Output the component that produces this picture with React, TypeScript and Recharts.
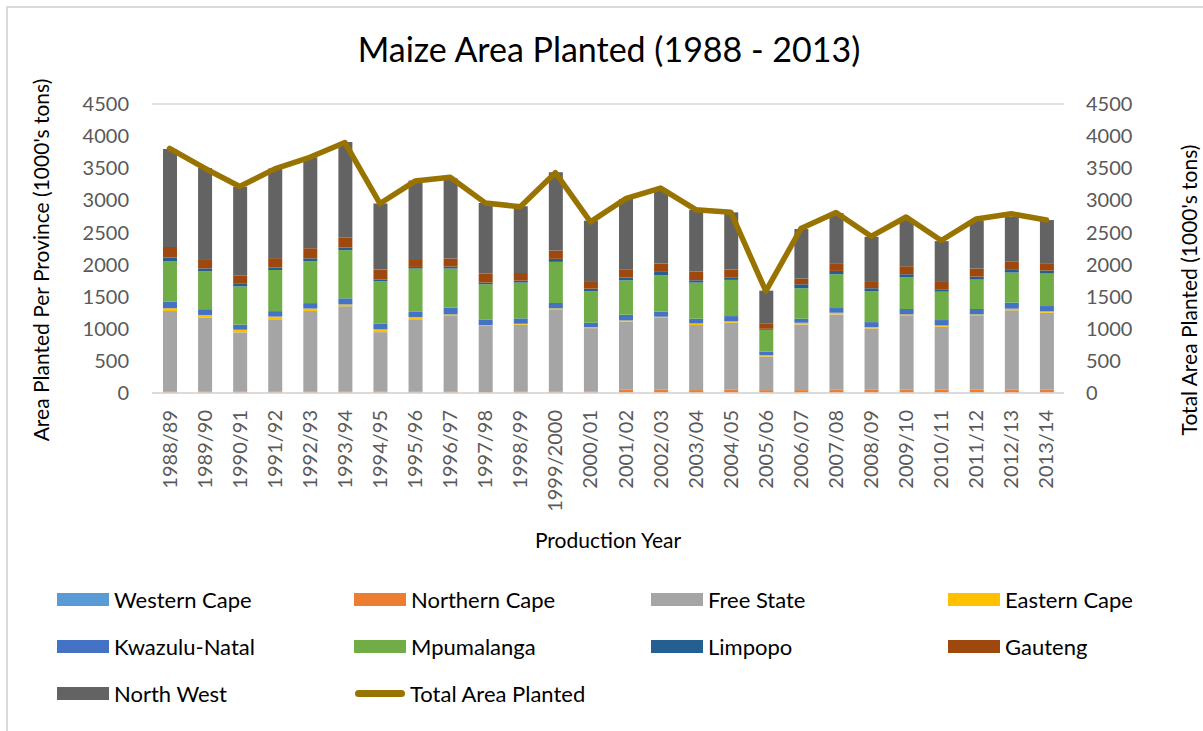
import { ComposedChart, Bar, Line, XAxis, YAxis, CartesianGrid } from 'recharts';

const FONT = 'Lato, "Open Sans", sans-serif';
const TICK_GREY = '#595959';
const GRID = '#d9d9d9';

const YEARS = [
  '1988/89', '1989/90', '1990/91', '1991/92', '1992/93', '1993/94', '1994/95', '1995/96', '1996/97',
  '1997/98', '1998/99', '1999/2000', '2000/01', '2001/02', '2002/03', '2003/04', '2004/05', '2005/06',
  '2006/07', '2007/08', '2008/09', '2009/10', '2010/11', '2011/12', '2012/13', '2013/14',
];

const WESTERN_CAPE = [5, 5, 5, 5, 5, 5, 5, 5, 5, 5, 5, 5, 5, 5, 5, 5, 5, 5, 5, 5, 5, 5, 5, 5, 5, 5];
const NORTHERN_CAPE = [20, 20, 20, 20, 20, 20, 20, 20, 20, 12, 15, 20, 20, 45, 50, 40, 45, 40, 40, 50, 45, 45, 45, 45, 45, 45];
const FREE_STATE = [1250, 1150, 920, 1125, 1250, 1324, 923, 1111, 1173, 1025, 1043, 1267, 985, 1065, 1112, 1012, 1044, 523, 1023, 1169, 955, 1159, 981, 1159, 1237, 1200];
const EASTERN_CAPE = [45, 40, 40, 40, 40, 30, 42, 46, 26, 15, 15, 26, 16, 15, 21, 26, 21, 21, 26, 26, 21, 15, 21, 15, 26, 21];
const KWAZULU_NATAL = [100, 90, 80, 85, 85, 95, 88, 89, 104, 89, 84, 83, 68, 89, 78, 73, 83, 57, 62, 73, 78, 84, 84, 84, 94, 83];
const MPUMALANGA = [630, 590, 595, 640, 650, 750, 662, 667, 610, 547, 557, 641, 490, 536, 568, 563, 563, 338, 475, 526, 480, 494, 442, 458, 469, 506];
const LIMPOPO = [60, 45, 40, 40, 47, 42, 26, 25, 31, 26, 31, 47, 41, 42, 52, 36, 41, 16, 62, 52, 47, 47, 37, 47, 52, 47];
const GAUTENG = [165, 145, 125, 145, 157, 156, 156, 109, 125, 136, 120, 130, 104, 130, 130, 136, 120, 78, 89, 120, 98, 125, 114, 125, 115, 114];
const NORTH_WEST = [1525, 1420, 1385, 1395, 1417, 1485, 1027, 1236, 1251, 1104, 1037, 1219, 954, 1095, 1162, 959, 891, 516, 771, 782, 704, 725, 636, 745, 703, 672];
const TOTAL = [3810, 3500, 3215, 3490, 3670, 3900, 2950, 3300, 3360, 2960, 2900, 3430, 2665, 3025, 3190, 2855, 2815, 1585, 2560, 2810, 2440, 2740, 2375, 2710, 2790, 2695];

const Y_TICKS = [0, 500, 1000, 1500, 2000, 2500, 3000, 3500, 4000, 4500];

const SERIES = [
  { key: 'wc', name: 'Western Cape', color: '#5B9BD5', values: WESTERN_CAPE },
  { key: 'nc', name: 'Northern Cape', color: '#ED7D31', values: NORTHERN_CAPE },
  { key: 'fs', name: 'Free State', color: '#A5A5A5', values: FREE_STATE },
  { key: 'ec', name: 'Eastern Cape', color: '#FFC000', values: EASTERN_CAPE },
  { key: 'kzn', name: 'Kwazulu-Natal', color: '#4472C4', values: KWAZULU_NATAL },
  { key: 'mp', name: 'Mpumalanga', color: '#70AD47', values: MPUMALANGA },
  { key: 'lp', name: 'Limpopo', color: '#255E91', values: LIMPOPO },
  { key: 'gt', name: 'Gauteng', color: '#9E480E', values: GAUTENG },
  { key: 'nw', name: 'North West', color: '#636363', values: NORTH_WEST },
];
const LINE_COLOR = '#997300';

const data = YEARS.map((jaar, i) => {
  const row: Record<string, string | number> = { jaar, total: TOTAL[i] };
  SERIES.forEach(s => { row[s.key] = s.values[i]; });
  return row;
});

function YearTick({ x, y, payload }: any) {
  return (
    <text
      x={0}
      y={0}
      transform={`translate(${x + 7}, ${y + 9}) rotate(-90)`}
      textAnchor="end"
      fill={TICK_GREY}
      fontSize={20}
      fontFamily={FONT}
    >
      {payload.value}
    </text>
  );
}

const legendItems = [
  ...SERIES.map(s => ({ name: s.name, color: s.color, line: false })),
  { name: 'Total Area Planted', color: LINE_COLOR, line: true },
];

export default function App() {
  return (
    <div style={{ position: 'absolute', left: 0, top: 0, width: 1203, height: 731, background: '#fff', overflow: 'hidden', fontFamily: FONT }}>
      <div style={{ position: 'absolute', left: 6, top: 6, width: 1300, height: 800, borderLeft: `2px solid ${GRID}`, borderTop: `2px solid ${GRID}` }} />

      <div style={{ position: 'absolute', left: 0, width: 1218, top: 28, textAlign: 'center', fontSize: 34, color: '#000' }}>
        Maize Area Planted (1988 - 2013)
      </div>

      <div style={{ position: 'absolute', left: 40, top: 260, width: 0, height: 0 }}>
        <div style={{ position: 'absolute', transform: 'translate(-50%, -50%) rotate(-90deg)', whiteSpace: 'nowrap', fontSize: 21, color: '#000' }}>
          Area Planted Per Province (1000's tons)
        </div>
      </div>
      <div style={{ position: 'absolute', left: 1188, top: 290, width: 0, height: 0 }}>
        <div style={{ position: 'absolute', transform: 'translate(-50%, -50%) rotate(-90deg)', whiteSpace: 'nowrap', fontSize: 21, color: '#000' }}>
          Total Area Planted (1000's tons)
        </div>
      </div>

      <div style={{ position: 'absolute', left: 0, top: 0 }}>
        <ComposedChart width={1203} height={731} data={data} margin={{ top: 104, right: 67, bottom: 178, left: 50 }} barSize={14}>
          <CartesianGrid vertical={false} stroke={GRID} strokeWidth={1.5} />
          <XAxis
            dataKey="jaar"
            interval={0}
            tick={<YearTick />}
            tickLine={false}
            axisLine={{ stroke: GRID, strokeWidth: 1.5 }}
            height={160}
            label={{ value: 'Production Year', position: 'insideBottom', offset: 5, fill: '#000', fontSize: 21, fontFamily: FONT }}
          />
          <YAxis
            yAxisId="left"
            domain={[0, 4500]}
            ticks={Y_TICKS}
            interval={0}
            width={102}
            tickLine={false}
            axisLine={false}
            tickSize={0}
            tickMargin={23}
            tick={{ fill: TICK_GREY, fontSize: 20, fontFamily: FONT }}
          />
          <YAxis
            yAxisId="right"
            orientation="right"
            domain={[0, 4500]}
            ticks={Y_TICKS}
            interval={0}
            width={72}
            tickLine={false}
            axisLine={false}
            tickSize={0}
            tickMargin={22}
            tick={{ fill: TICK_GREY, fontSize: 20, fontFamily: FONT, textAnchor: 'start' }}
          />
          {SERIES.map(s => (
            <Bar key={s.key} yAxisId="left" dataKey={s.key} name={s.name} stackId="a" fill={s.color} isAnimationActive={false} />
          ))}
          <Line
            yAxisId="right"
            type="linear"
            dataKey="total"
            name="Total Area Planted"
            stroke={LINE_COLOR}
            strokeWidth={5.5}
            strokeLinejoin="round"
            strokeLinecap="round"
            dot={false}
            activeDot={false}
            isAnimationActive={false}
          />
        </ComposedChart>
      </div>

      <div style={{ position: 'absolute', left: 57, top: 586, width: 1188, display: 'grid', gridTemplateColumns: 'repeat(4, 297px)', rowGap: 21 }}>
        {legendItems.map(item => (
          <div key={item.name} style={{ display: 'flex', alignItems: 'center', height: 26, fontSize: 22, color: '#000' }}>
            {item.line ? (
              <span style={{ display: 'inline-block', width: 50, height: 7, borderRadius: 4, background: item.color, margin: '0 5px 0 1px' }} />
            ) : (
              <span style={{ display: 'inline-block', width: 52, height: 13, background: item.color, marginRight: 5 }} />
            )}
            {item.name}
          </div>
        ))}
      </div>
    </div>
  );
}
